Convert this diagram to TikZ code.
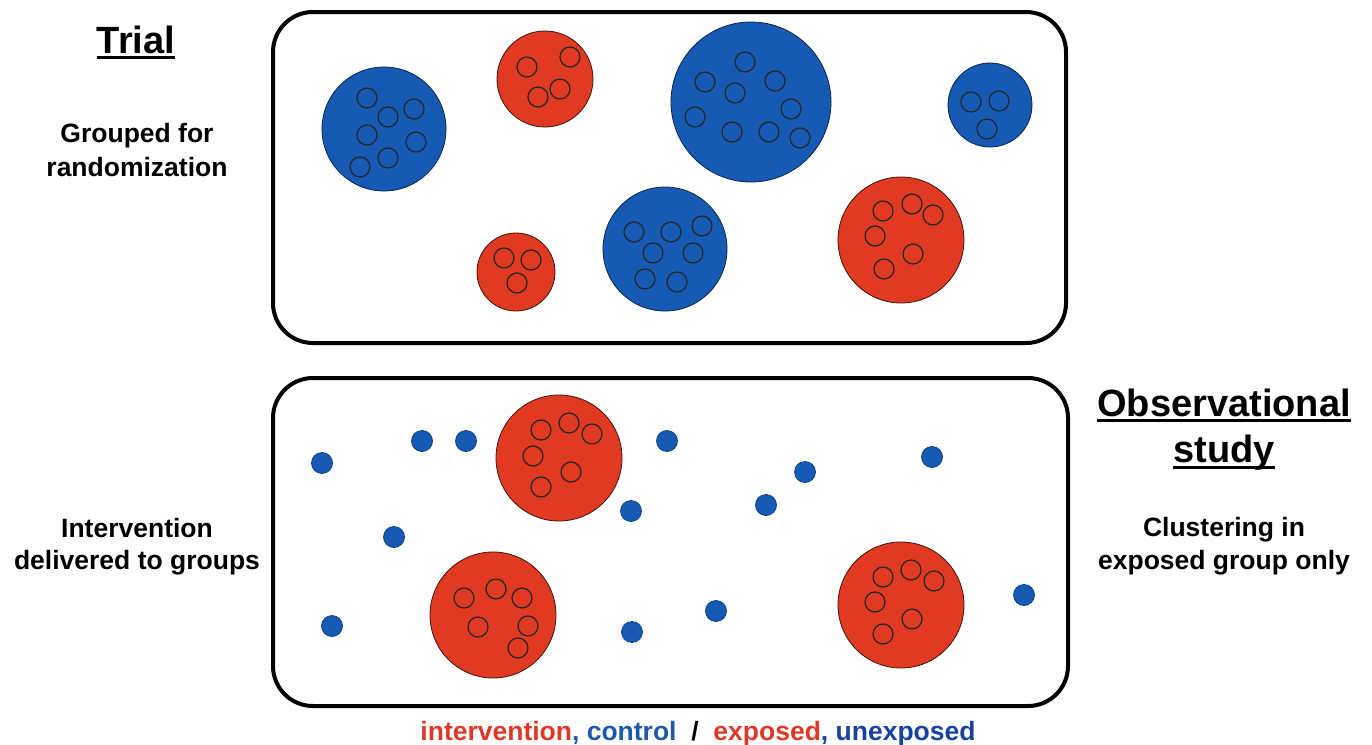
\documentclass[tikz,border=0pt]{standalone}
\usepackage{fontspec}
\setmainfont{Liberation Sans}
\definecolor{cred}{RGB}{224,58,34}
\definecolor{cblue}{RGB}{22,90,180}
\definecolor{lred}{RGB}{222,56,40}
\definecolor{lblue}{RGB}{30,88,170}
\definecolor{lblue2}{RGB}{24,66,160}
\tikzset{
  frame/.style={draw=black, line width=4pt, rounded corners=40pt},
  bigred/.style={circle, fill=cred, draw=black!70!cred, line width=0.8pt, inner sep=0pt, minimum size=#1},
  bigblue/.style={circle, fill=cblue, draw=black!60!cblue, line width=0.8pt, inner sep=0pt, minimum size=#1},
  member/.style={circle, draw=black!85, line width=1.2pt, inner sep=0pt, minimum size=20pt},
  dot/.style={circle, fill=cblue, draw=black!25!cblue, line width=0.8pt, inner sep=0pt, minimum size=21pt},
  title/.style={font=\bfseries\fontsize{38}{44}\selectfont, inner sep=0pt, anchor=base},
  body/.style={font=\bfseries\fontsize{26.5}{33}\selectfont, inner sep=0pt, anchor=base},
  uline/.style={line width=2.5pt}
}
\begin{document}
\begin{tikzpicture}[x=1pt,y=-1pt]
\useasboundingbox (0,0) rectangle (1372,744);
% frames
\draw[frame] (273,12) rectangle (1066,343);
\draw[frame] (273,378) rectangle (1068,706);
% ---- Trial box ----
\node[bigblue=124pt] (tb1) at (384,129) {};
\foreach \x/\y [count=\i] in {367/98,414/109,388/117,367/135,416/142,388/158,360/167}
  \node[member] (tb1m\i) at (\x,\y) {};
\node[bigred=96pt] (tr1) at (545,79) {};
\foreach \x/\y [count=\i] in {527/67,570/57,538/97,560/89}
  \node[member] (tr1m\i) at (\x,\y) {};
\node[bigblue=160pt] (tb2) at (751,102) {};
\foreach \x/\y [count=\i] in {745/62,705/82,775/81,735/93,791/109,695/117,732/132,769/132,800/138}
  \node[member] (tb2m\i) at (\x,\y) {};
\node[bigblue=84pt] (tb3) at (990,105) {};
\foreach \x/\y [count=\i] in {971/102,999/101,987/129}
  \node[member] (tb3m\i) at (\x,\y) {};
\node[bigred=78pt] (tr2) at (516,272) {};
\foreach \x/\y [count=\i] in {504/258,531/260,517/283}
  \node[member] (tr2m\i) at (\x,\y) {};
\node[bigblue=124pt] (tb4) at (665,249) {};
\foreach \x/\y [count=\i] in {634/232,671/232,702/226,653/253,693/253,645/279,677/282}
  \node[member] (tb4m\i) at (\x,\y) {};
\node[bigred=126pt] (tr3) at (901,240) {};
\foreach \x/\y [count=\i] in {883/211,912/204,933/215,875/236,913/254,884/269}
  \node[member] (tr3m\i) at (\x,\y) {};
% ---- Observational box ----
\node[bigred=126pt] (or1) at (559,458) {};
\foreach \x/\y [count=\i] in {541/430,569/423,592/434,533/456,571/472,541/487}
  \node[member] (or1m\i) at (\x,\y) {};
\node[bigred=126pt] (or2) at (493,615) {};
\foreach \x/\y [count=\i] in {464/598,496/589,522/598,478/627,528/626,518/648}
  \node[member] (or2m\i) at (\x,\y) {};
\node[bigred=126pt] (or3) at (901,605) {};
\foreach \x/\y [count=\i] in {883/577,911/570,934/581,875/602,912/619,883/634}
  \node[member] (or3m\i) at (\x,\y) {};
\foreach \x/\y [count=\i] in {322/463,422/441,466/441,667/441,631/511,805/472,766/505,394/537,332/626,632/632,716/611,932/457,1024/595}
  \node[dot] (od\i) at (\x,\y) {};
% ---- texts ----
\node[title] (trial) at (136,53) {Trial};
\draw[uline] ([yshift=-4.5pt]trial.base west) -- ([yshift=-4.5pt]trial.base east);
\node[body] (g1) at (137,142) {Grouped for};
\node[body] (g2) at (137,176) {randomization};
\node[title] (obs1) at (1224,416) {Observational};
\draw[uline] ([yshift=-4.5pt]obs1.base west) -- ([yshift=-4.5pt]obs1.base east);
\node[title] (obs2) at (1224,462) {study};
\draw[uline] ([yshift=-5.5pt]obs2.base west) -- ([yshift=-5.5pt]obs2.base east);
\node[body] (c1) at (1224,536) {Clustering in};
\node[body] (c2) at (1224,569) {exposed group only};
\node[body] (i1) at (137,537) {Intervention};
\node[body] (i2) at (137,569) {delivered to groups};
\node[body] (legend) at (698,740) {\textcolor{lred}{intervention}\textcolor{lblue}{, control}\ \ /\ \ \textcolor{lred}{exposed}\textcolor{lblue2}{, unexposed}};
\end{tikzpicture}
\end{document}
